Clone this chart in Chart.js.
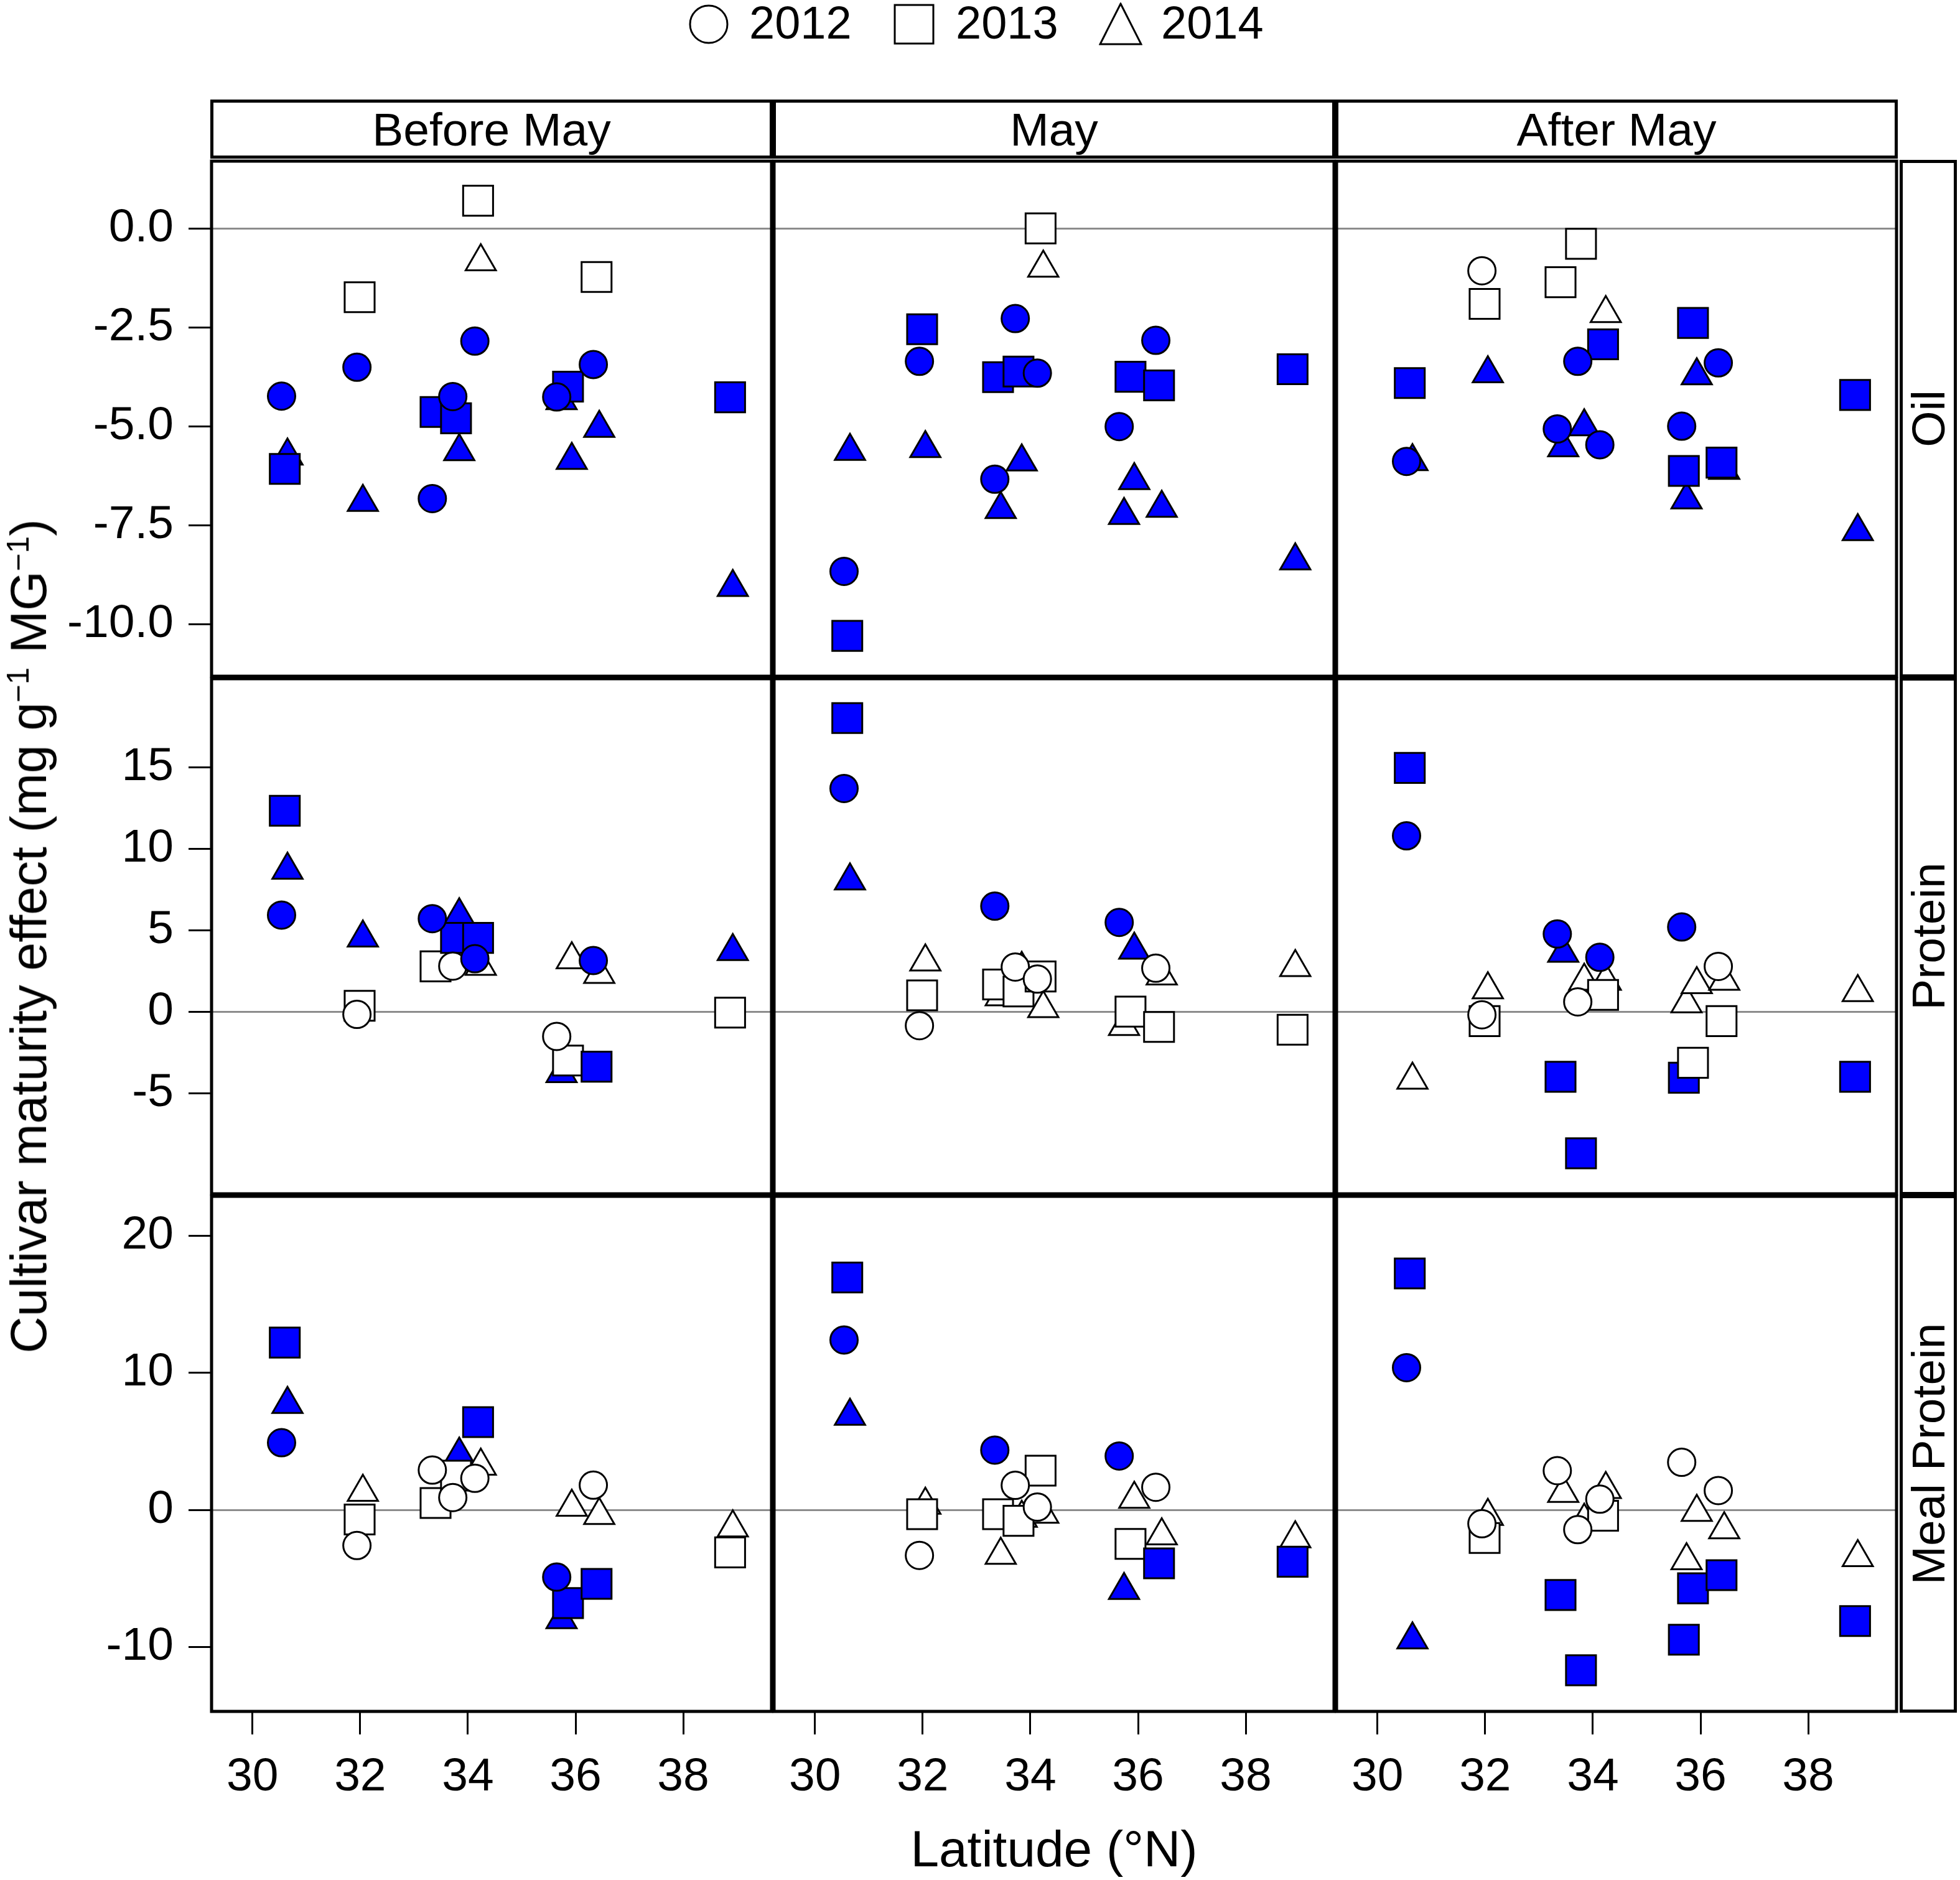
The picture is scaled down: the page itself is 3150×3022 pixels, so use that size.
<!DOCTYPE html>
<html>
<head>
<meta charset="utf-8">
<script src="https://cdn.jsdelivr.net/npm/chart.js@4.4.1/dist/chart.umd.min.js"></script>
<style>
  body { margin: 0; background: #fff; width: 3150px; height: 3022px; position: relative; overflow: hidden;
         font-family: 'Liberation Sans', Arial, sans-serif; color: #000; }
  canvas { position: absolute; }
  .strip { position: absolute; box-sizing: border-box; border: 5px solid #000; background: #fff;
           display: flex; align-items: center; justify-content: center; font-size: 75px; }
  .side span { transform: rotate(-90deg); white-space: nowrap; }
  .txt { position: absolute; white-space: nowrap; line-height: 74px; font-size: 74px; }
  .title { position: absolute; white-space: nowrap; font-size: 82px; transform: translate(-50%, -50%); }
  .title sup { font-size: 0.6em; }
</style>
</head>
<body>

<script>
// facets and groups
var years = ['2012', '2013', '2014'];
var timings = ['Before May', 'May', 'After May'];
var traits = ['Oil', 'Protein', 'Meal Protein'];

// latitude of each site, per year (symbols are slightly dodged by year)
var lat2012 = [30.54, 31.94, 33.34, 33.72, 34.13, 35.65, null, 36.33, null];
var lat2013 = [30.60, 31.99, 33.40, 33.78, 34.19, 35.69, 35.86, 36.39, 38.87];
var lat2014 = [30.65, 32.05, 33.45, 33.84, 34.24, 35.74, 35.93, 36.44, 38.92];

// values: one row per timing (Before May, May, After May), one entry per site
var oil2012 = [
    [-4.24, -3.51, -6.83, -4.25, -2.85, -4.26, null, -3.44, null],
    [-8.67, -3.36, -6.34, -2.28, -3.66, -5.01, null, -2.83, null],
    [-5.89, -1.07, -5.07, -3.36, -5.47, -5.00, null, -3.40, null]
];
var oil2013 = [
    [-6.08, -1.74, -4.64, -4.80, 0.70, null, -4.00, -1.23, -4.27],
    [-10.30, -2.55, -3.76, -3.62, 0.00, null, -3.75, -3.97, -3.56],
    [-3.91, -1.91, -1.36, -0.39, -2.93, -6.13, -2.39, -5.92, -4.21]
];
var oil2014 = [
    [-5.75, -6.92, null, -5.64, -0.84, -4.35, -5.86, -5.05, -9.07],
    [-5.63, -5.56, -7.10, -5.90, -1.00, -7.25, -6.37, -7.07, -8.40],
    [-5.89, -3.67, -5.54, -5.01, -2.15, -6.86, -3.72, -6.11, -7.66]
];
var protein2012 = [
    [5.93, -0.17, 5.71, 2.80, 3.25, -1.52, null, 3.14, null],
    [13.71, -0.86, 6.48, 2.74, 2.00, 5.48, null, 2.67, null],
    [10.80, -0.19, 4.77, 0.60, 3.34, 5.20, null, 2.78, null]
];
var protein2013 = [
    [12.34, 0.36, 2.78, 4.53, 4.53, null, -3.00, -3.38, -0.06],
    [18.03, 1.00, 1.67, 1.24, 2.16, null, 0.00, -0.94, -1.11],
    [14.97, -0.58, -4.00, -8.70, 1.03, -4.06, -3.14, -0.58, -4.00]
];
var protein2014 = [
    [8.70, 4.53, null, 5.90, 2.80, -3.80, 3.20, 2.30, 3.70],
    [8.04, 3.06, 0.92, 2.60, 0.20, -0.90, 3.79, 2.20, 2.72],
    [-4.20, 1.35, 3.60, 1.88, 1.88, 0.49, 1.67, 1.88, 1.18]
];
var meal2012 = [
    [4.90, -2.60, 2.90, 0.90, 2.30, -4.90, null, 1.80, null],
    [12.39, -3.32, 4.36, 1.79, 0.20, 3.93, null, 1.65, null],
    [10.37, -1.01, 2.86, -1.44, 0.78, 3.47, null, 1.41, null]
];
var meal2013 = [
    [12.20, -0.70, 0.50, 2.50, 6.40, null, -6.80, -5.40, -3.10],
    [16.95, -0.32, -0.32, -0.80, 2.86, null, -2.48, -3.90, -3.78],
    [17.24, -2.05, -6.21, -11.70, -0.43, -9.47, -5.72, -4.76, -8.11]
];
var meal2014 = [
    [7.70, 1.30, null, 4.00, 3.20, -8.00, 0.20, -0.40, -1.30],
    [6.84, 0.35, -3.30, -0.60, -0.30, -5.86, 0.78, -1.88, -2.10],
    [-9.47, -0.46, 1.21, -0.81, 1.50, -3.70, -0.17, -1.44, -3.47]
];

// significant effects (filled blue symbols)
var sigOil2012 = [[1,1,1,1,1,1,0,1,0], [1,1,1,1,1,1,0,1,0], [1,0,1,1,1,1,0,1,0]];
var sigOil2013 = [[1,0,1,1,0,0,1,0,1], [1,1,1,1,0,0,1,1,1], [1,0,0,0,1,1,1,1,1]];
var sigOil2014 = [[1,1,0,1,0,1,1,1,1], [1,1,1,1,0,1,1,1,1], [1,1,1,1,0,1,1,1,1]];
var sigProtein2012 = [[1,0,1,0,1,0,0,1,0], [1,0,1,0,0,1,0,0,0], [1,0,1,0,1,1,0,0,0]];
var sigProtein2013 = [[1,0,0,1,1,0,0,1,0], [1,0,0,0,0,0,0,0,0], [1,0,1,1,0,1,0,0,1]];
var sigProtein2014 = [[1,1,0,1,0,1,0,0,1], [1,0,0,0,0,0,1,0,0], [0,0,1,0,0,0,0,0,0]];
var sigMeal2012 = [[1,0,0,0,0,1,0,0,0], [1,0,1,0,0,1,0,0,0], [1,0,0,0,0,0,0,0,0]];
var sigMeal2013 = [[1,0,0,0,1,0,1,1,0], [1,0,0,0,0,0,0,1,1], [1,0,1,1,0,1,1,1,1]];
var sigMeal2014 = [[1,0,0,1,0,1,0,0,0], [1,0,0,0,0,1,0,0,0], [1,0,0,0,0,0,0,0,0]];

// axes
var latTicks = [30, 32, 34, 36, 38];
var oilTicks = [0, -2.5, -5, -7.5, -10];
var proteinTicks = [15, 10, 5, 0, -5];
var mealTicks = [20, 10, 0, -10];
var latRange = [29.24, 39.64];
var oilRange = [-11.32, 1.70];
var proteinRange = [-11.19, 20.45];
var mealRange = [-14.70, 22.87];
</script>

<script>
    var BLUE = '#0000ff',
        FONT = "'Liberation Sans', Arial, sans-serif",
        colLeft = [340, 1244, 2148],
        rowTop = [259, 1091, 1923],
        panelW = 900,
        panelH = 828,
        axisW = 340,
        axisH = 200,
        pad = 6;

    Chart.defaults.font.family = FONT;
    Chart.defaults.color = '#000';

    var rows = [
        { vals: [oil2012, oil2013, oil2014], sig: [sigOil2012, sigOil2013, sigOil2014],
          ticks: oilTicks, range: oilRange, fmt: function (v) { return v.toFixed(1); } },
        { vals: [protein2012, protein2013, protein2014], sig: [sigProtein2012, sigProtein2013, sigProtein2014],
          ticks: proteinTicks, range: proteinRange, fmt: function (v) { return String(v); } },
        { vals: [meal2012, meal2013, meal2014], sig: [sigMeal2012, sigMeal2013, sigMeal2014],
          ticks: mealTicks, range: mealRange, fmt: function (v) { return String(v); } }
    ];
    var lats = [lat2012, lat2013, lat2014],
        shapes = ['circle', 'rect', 'triangle'],
        radii = [22, 34, 28];

    // black frame round each panel
    var panelBox = {
        id: 'panelBox',
        afterDraw: function (chart) {
            var a = chart.chartArea, ctx = chart.ctx;
            ctx.save();
            ctx.strokeStyle = '#000';
            ctx.lineWidth = 5;
            ctx.strokeRect(a.left, a.top, a.right - a.left, a.bottom - a.top);
            ctx.restore();
        }
    };

    function makePanel(r, c) {
        var row = rows[r],
            left = c === 0 ? 0 : colLeft[c] - pad,
            top = rowTop[r] - pad,
            w = (c === 0 ? axisW : pad) + panelW + pad,
            h = pad + panelH + (r === 2 ? axisH : pad);

        var canvas = document.createElement('canvas');
        canvas.width = w;
        canvas.height = h;
        canvas.style.left = left + 'px';
        canvas.style.top = top + 'px';
        canvas.style.width = w + 'px';
        canvas.style.height = h + 'px';
        document.body.appendChild(canvas);

        var datasets = [];
        for (var y = 0; y < 3; y++) {
            var pts = [], fills = [];
            lats[y].forEach(function (lat, i) {
                var v = row.vals[y][c][i];
                if (lat === null || v === null) return;
                pts.push({ x: lat, y: v });
                fills.push(row.sig[y][c][i] ? BLUE : '#fff');
            });
            datasets.push({
                label: years[y],
                data: pts,
                pointStyle: shapes[y],
                pointRadius: radii[y],
                pointHoverRadius: radii[y],
                backgroundColor: fills,
                borderColor: '#000',
                borderWidth: 3,
                clip: false
            });
        }

        new Chart(canvas, {
            type: 'scatter',
            data: { datasets: datasets },
            plugins: [panelBox],
            options: {
                responsive: false,
                animation: false,
                devicePixelRatio: 1,
                events: [],
                layout: {
                    autoPadding: false,
                    padding: { left: c === 0 ? 0 : pad, right: pad, top: pad, bottom: r === 2 ? 0 : pad }
                },
                plugins: { legend: { display: false }, tooltip: { enabled: false } },
                scales: {
                    x: {
                        type: 'linear',
                        min: latRange[0],
                        max: latRange[1],
                        display: r === 2,
                        afterBuildTicks: function (s) { s.ticks = latTicks.map(function (v) { return { value: v }; }); },
                        afterFit: function (s) {
                            s.height = r === 2 ? axisH : 0;
                            s.paddingLeft = 0;
                            s.paddingRight = 0;
                        },
                        border: { display: false },
                        grid: { drawOnChartArea: false, drawTicks: true, tickLength: 37, tickColor: '#000', tickWidth: 3 },
                        ticks: { font: { size: 75 }, color: '#000', padding: 24, maxRotation: 0, autoSkip: false }
                    },
                    y: {
                        type: 'linear',
                        min: row.range[0],
                        max: row.range[1],
                        afterBuildTicks: function (s) { s.ticks = row.ticks.map(function (v) { return { value: v }; }); },
                        afterFit: function (s) {
                            s.width = c === 0 ? axisW : 0;
                            s.paddingTop = 0;
                            s.paddingBottom = 0;
                        },
                        border: { display: false },
                        grid: {
                            color: function (ctx) { return ctx.tick && ctx.tick.value === 0 ? '#8c8c8c' : 'rgba(0,0,0,0)'; },
                            lineWidth: 3,
                            drawTicks: c === 0,
                            tickLength: 37,
                            tickColor: '#000',
                            tickWidth: 3
                        },
                        ticks: { display: c === 0, font: { size: 75 }, color: '#000', padding: 24, autoSkip: false,
                                 callback: function (v) { return row.fmt(v); } }
                    }
                }
            }
        });
    }

    for (var r = 0; r < 3; r++) {
        for (var c = 0; c < 3; c++) {
            makePanel(r, c);
        }
    }

    // strips on top (timing) and right (trait)
    timings.forEach(function (t, c) {
        var d = document.createElement('div');
        d.className = 'strip';
        d.style.left = (colLeft[c] - 2) + 'px';
        d.style.top = '160px';
        d.style.width = (panelW + 4) + 'px';
        d.style.height = '95px';
        d.textContent = t;
        document.body.appendChild(d);
    });
    traits.forEach(function (t, r) {
        var d = document.createElement('div');
        d.className = 'strip side';
        d.style.left = '3053px';
        d.style.top = (rowTop[r] - 2) + 'px';
        d.style.width = '92px';
        d.style.height = (panelH + 4) + 'px';
        var s = document.createElement('span');
        s.textContent = t;
        d.appendChild(s);
        document.body.appendChild(d);
    });
</script>

<!-- legend -->
<svg style="position:absolute;left:1106px;top:6px" width="66" height="66">
  <circle cx="33" cy="33" r="30" fill="#fff" stroke="#000" stroke-width="3"/>
</svg>
<div class="txt" style="left:1204px;top:0px">2012</div>
<svg style="position:absolute;left:1436px;top:6px" width="66" height="66">
  <rect x="2" y="2" width="62" height="62" fill="#fff" stroke="#000" stroke-width="3"/>
</svg>
<div class="txt" style="left:1536px;top:0px">2013</div>
<svg style="position:absolute;left:1766px;top:4px" width="70" height="70">
  <polygon points="35,2 68,67 2,67" fill="#fff" stroke="#000" stroke-width="3"/>
</svg>
<div class="txt" style="left:1866px;top:0px">2014</div>

<!-- axis titles -->
<div class="title" style="left:1694px;top:2972px">Latitude (°N)</div>
<div class="title" style="left:46px;top:1505px;transform:translate(-50%,-50%) rotate(-90deg)">Cultivar maturity effect (mg g<sup>−1</sup> MG<sup>−1</sup>)</div>

</body>
</html>
